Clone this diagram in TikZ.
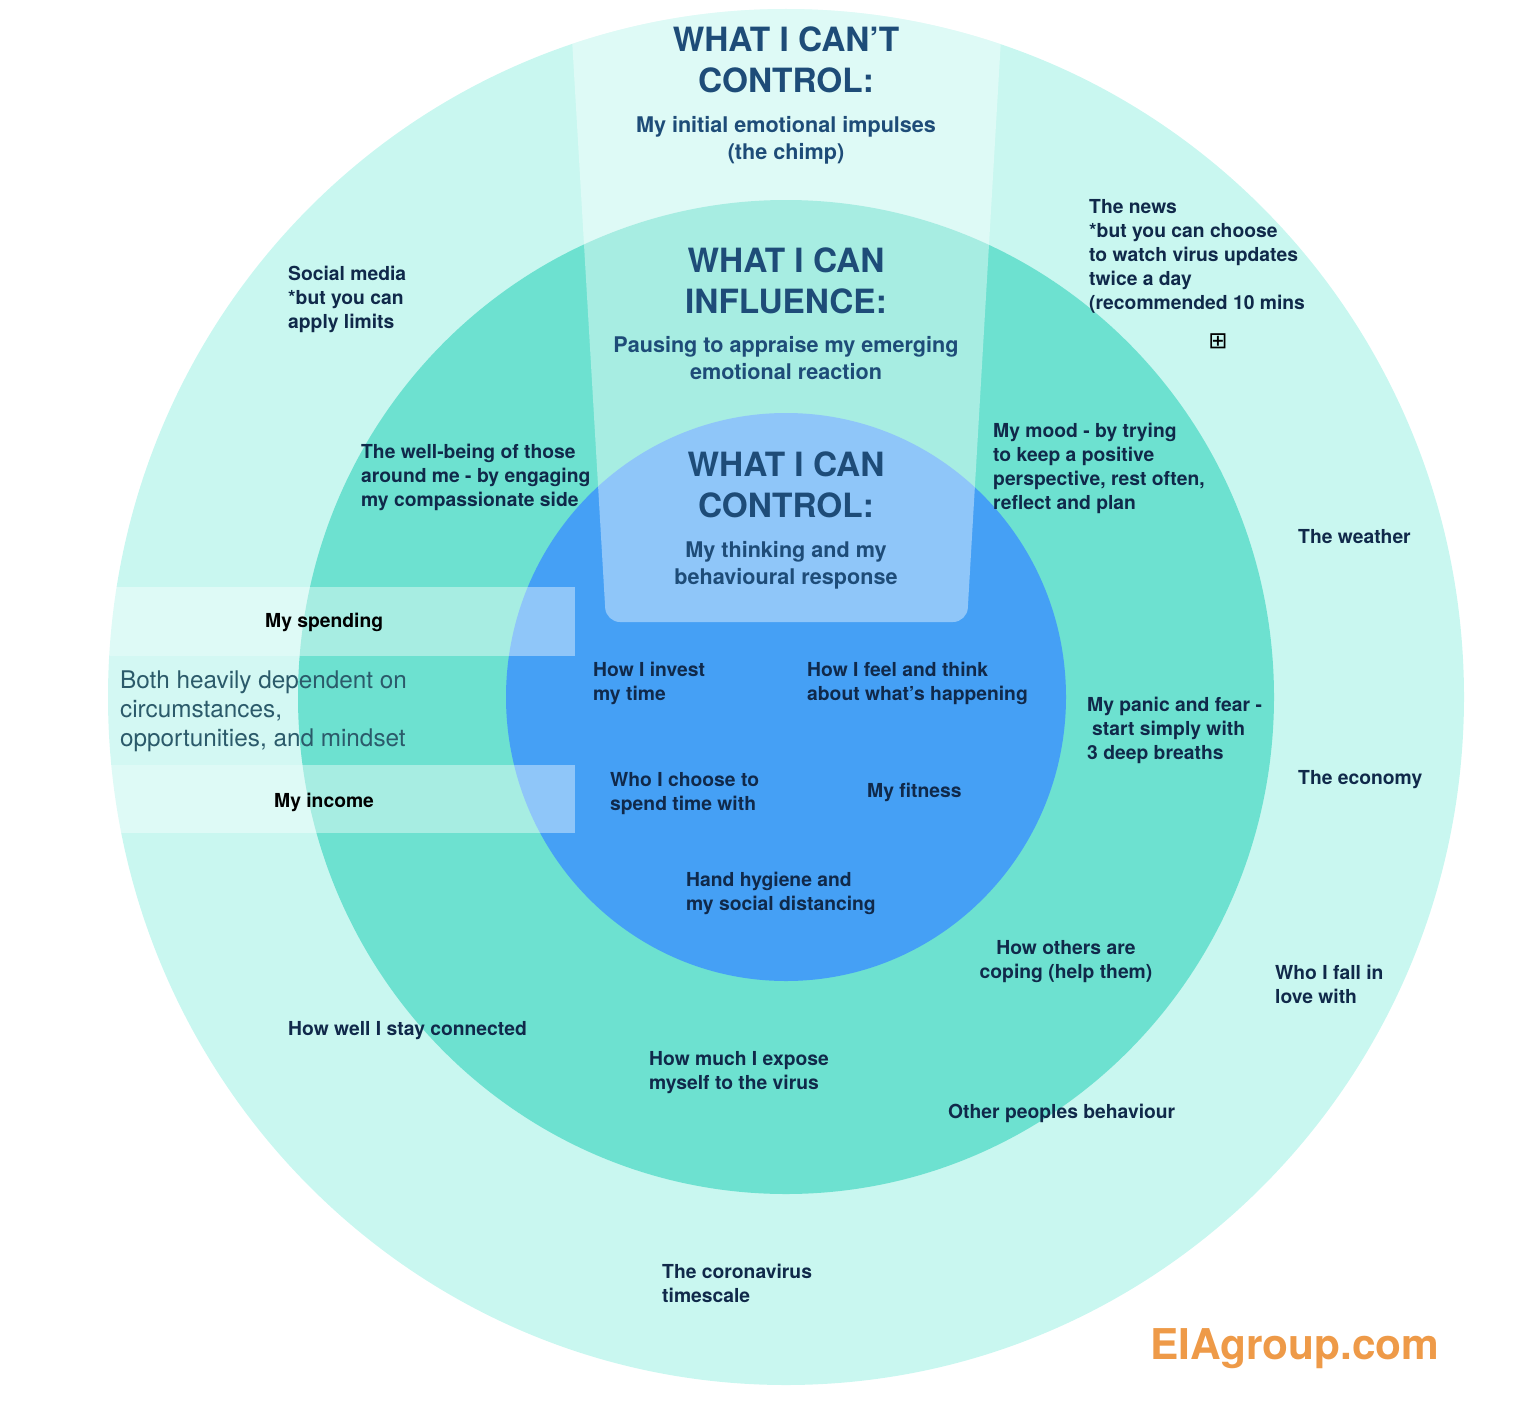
\documentclass[tikz,border=0pt]{standalone}
\usepackage{fontspec}
\setmainfont{TeX Gyre Heros}
\newfontfamily\symfont{DejaVu Sans}
\definecolor{ringout}{HTML}{C9F7F0}
\definecolor{ringmid}{HTML}{6DE1D0}
\definecolor{ringin}{HTML}{45A0F5}
\definecolor{navy}{HTML}{10294A}
\definecolor{titleblue}{HTML}{1E4C78}
\definecolor{slate}{HTML}{2B5A6A}
\definecolor{brand}{HTML}{EE9A48}
\tikzset{
  body/.style={font=\bfseries\fontsize{19.3}{24}\selectfont, text=navy, inner sep=0pt, align=left, anchor=north west},
  bodyc/.style={body, align=center, anchor=north},
  heading/.style={font=\bfseries\fontsize{33.4}{41}\selectfont, text=titleblue, inner sep=0pt, align=center, anchor=north},
  subhead/.style={font=\bfseries\fontsize{21.6}{27}\selectfont, text=titleblue, inner sep=0pt, align=center, anchor=north},
  note/.style={font=\fontsize{24.3}{29}\selectfont, text=slate, inner sep=0pt, align=left, anchor=north west},
  veil/.style={fill=white, fill opacity=0.4},
  bandtext/.style={body, text=black},
}
\begin{document}
\begin{tikzpicture}[x=1pt, y=-1pt]
\useasboundingbox (0,0) rectangle (1536,1410);
% rings
\fill[ringout] (786,697) ellipse [x radius=678pt, y radius=688pt];
\fill[white, fill opacity=0.2] (108,656) rectangle (575,765);
\fill[ringmid] (786,697) ellipse [x radius=488pt, y radius=497pt];
\fill[ringin] (786,697) ellipse [x radius=280pt, y radius=284pt];
% light wedge
\begin{scope}
  \clip (786,697) ellipse [x radius=678pt, y radius=688pt];
  \fill[veil, rounded corners=14pt] (568,-30) -- (606,622) -- (967,622) -- (1005,-30) -- cycle;
\end{scope}
% left bands
\fill[veil] (108,587) rectangle (575,656);
\fill[veil] (108,765) rectangle (575,833);

% headings
\node[heading] (h1) at (786,27) {WHAT I CAN’T\\CONTROL:};
\node[subhead] (s1) at (786,116) {My initial emotional impulses\\(the chimp)};
\node[heading] (h2) at (786,248) {WHAT I CAN\\INFLUENCE:};
\node[subhead] (s2) at (786,336) {Pausing to appraise my emerging\\emotional reaction};
\node[heading] (h3) at (786,452) {WHAT I CAN\\CONTROL:};
\node[subhead] (s3) at (786,541) {My thinking and my\\behavioural response};

% outer ring
\node[body] (social) at (288,266) {Social media\\*but you can\\apply limits};
\node[body] (news) at (1089,199) {The news\\*but you can choose\\to watch virus updates\\twice a day\\(recommended 10 mins};
\node[font=\symfont\fontsize{23}{23}\selectfont, inner sep=0pt, text=black] (more) at (1218,341) {⊞};
\node[body] (weather) at (1298,529) {The weather};
\node[body] (economy) at (1298,770) {The economy};
\node[body] (love) at (1275,965) {Who I fall in\\love with};
\node[body] (corona) at (662,1264) {The coronavirus\\timescale};
\node[bandtext] (spend) at (265,613) {My spending};
\node[bandtext] (income) at (274,793) {My income};
\node[note] (both) at (120,671) {Both heavily dependent on\\circumstances,\\opportunities, and mindset};

% middle ring
\node[body] (wellbeing) at (361,444) {The well-being of those\\around me - by engaging\\my compassionate side};
\node[body] (mood) at (993,423) {My mood - by trying\\to keep a positive\\perspective, rest often,\\reflect and plan};
\node[body] (panic) at (1087,697) {My panic and fear -\\\hspace*{5pt}start simply with\\3 deep breaths};
\node[bodyc] (others) at (1066,940) {How others are\\coping (help them)};
\node[body] (connected) at (288,1021) {How well I stay connected};
\node[body] (expose) at (649,1051) {How much I expose\\myself to the virus};
\node[body] (peoples) at (948,1104) {Other peoples behaviour};

% inner circle
\node[body] (invest) at (593,662) {How I invest\\my time};
\node[body] (feel) at (807,662) {How I feel and think\\about what’s happening};
\node[body] (choose) at (610,772) {Who I choose to\\spend time with};
\node[body] (fitness) at (867,783) {My fitness};
\node[body] (hygiene) at (686,872) {Hand hygiene and\\my social distancing};

% brand
\node[font=\bfseries\fontsize{42.4}{50}\selectfont, text=brand, inner sep=0pt, anchor=north west] (brandname) at (1150,1328) {EIAgroup.com};
\end{tikzpicture}
\end{document}
